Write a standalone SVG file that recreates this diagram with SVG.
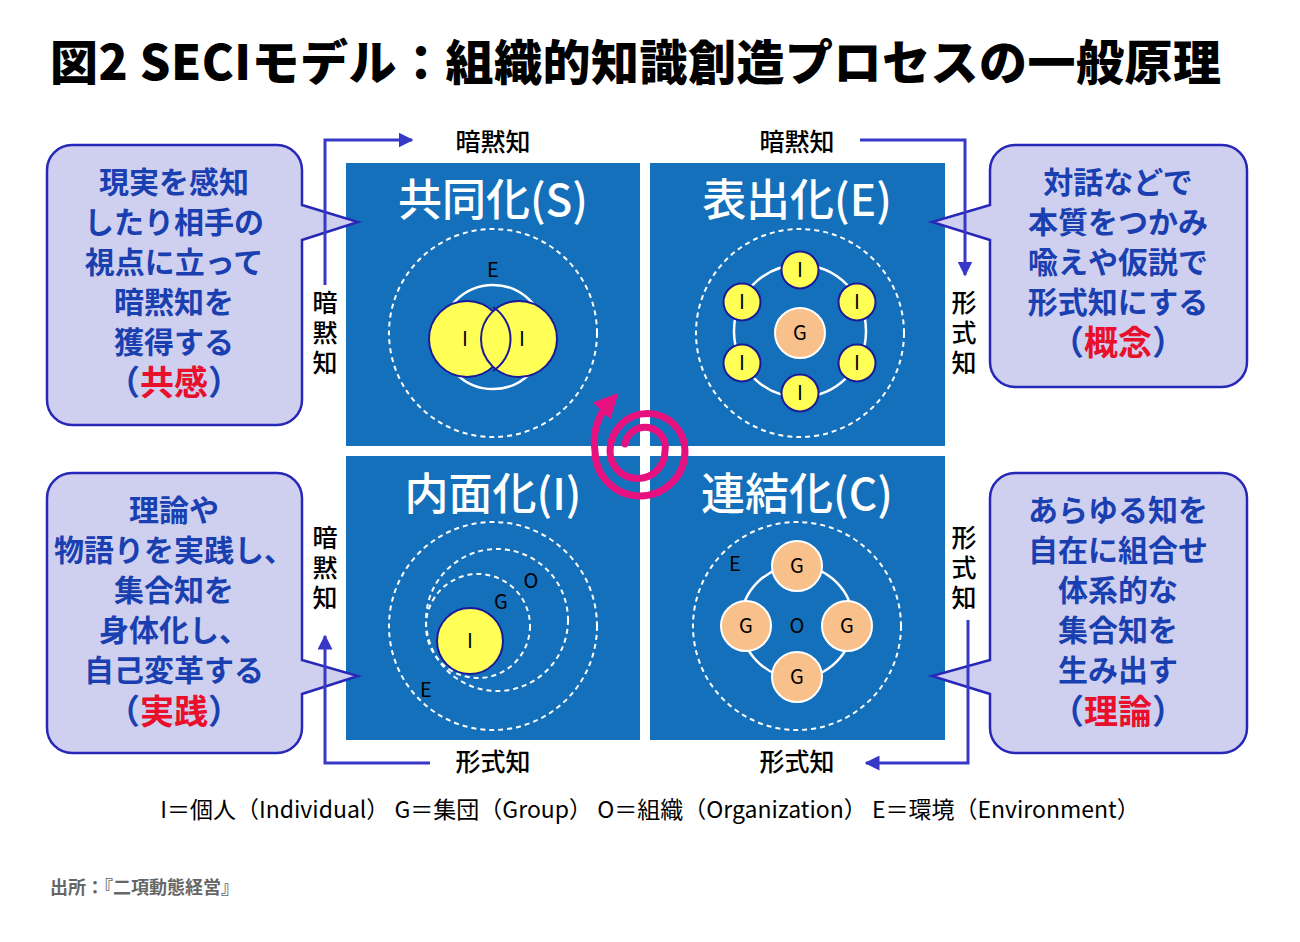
<svg xmlns="http://www.w3.org/2000/svg" width="1300" height="942" viewBox="0 0 1300 942">
<defs>
<style>
text{font-family:"Noto Sans CJK JP","Liberation Sans",sans-serif}
.ttl{font-size:48px;font-weight:900;fill:#000;letter-spacing:0.5px}
.q{fill:#1470bb}
.qt{font-size:44px;fill:#fff;text-anchor:middle;font-weight:500}
.dash{fill:none;stroke:#fff;stroke-width:2;stroke-dasharray:5 4}
.ring{fill:none;stroke:#fff;stroke-width:2.5}
.yi{fill:#ffff55;stroke:#1a1a9a;stroke-width:2}
.gi{fill:#f8c08a;stroke:#fff;stroke-width:2}
.lb{font-size:20px;fill:#000;text-anchor:middle}
.co{fill:#cfcff0;stroke:#2828b8;stroke-width:2.5}
.ct{font-size:30px;font-weight:700;fill:#1a3fb0;text-anchor:middle}
.red{fill:#e8102a}
.ax{font-size:25px;fill:#000;text-anchor:middle;font-weight:500}
.cn{fill:none;stroke:#3838c8;stroke-width:3}
</style>
<marker id="ah" viewBox="0 0 10 10" refX="9" refY="5" markerWidth="5" markerHeight="5" orient="auto"><path d="M0,0L10,5L0,10z" fill="#3838c8"/></marker>
<marker id="ph" viewBox="0 0 10 10" refX="5" refY="5" markerWidth="3.5" markerHeight="3.5" orient="auto"><path d="M0,0L10,5L0,10z" fill="#e6117e"/></marker>
</defs>
<rect width="1300" height="942" fill="#fff"/>
<text x="50" y="80" class="ttl">図2 SECIモデル：組織的知識創造プロセスの一般原理</text>

<g id="q-s">
<rect class="q" x="346" y="163" width="294" height="283"/>
<text class="qt" x="493" y="216">共同化(S)</text>
<circle class="dash" cx="493" cy="333" r="104"/>
<circle class="ring" cx="493" cy="337" r="52"/>
<text class="lb" x="493" y="277">E</text>
<circle class="yi" cx="467" cy="339" r="38"/>
<circle class="yi" cx="519" cy="339" r="38"/>
<path d="M493,307 A38,38 0 0 1 493,371" fill="none" stroke="#1a1a9a" stroke-width="2"/>
<text class="lb" x="465" y="346">I</text><text class="lb" x="522" y="346">I</text>
</g>

<g id="q-e">
<rect class="q" x="650" y="163" width="295" height="283"/>
<text class="qt" x="797" y="216">表出化(E)</text>
<circle class="dash" cx="800" cy="333" r="104"/>
<circle class="ring" cx="800" cy="331" r="66"/>
<circle class="gi" cx="800" cy="333" r="25"/><text class="lb" x="800" y="340">G</text>
<circle class="yi" cx="800" cy="270" r="18.5"/><text class="lb" x="800" y="277">I</text>
<circle class="yi" cx="742" cy="302" r="18.5"/><text class="lb" x="742" y="309">I</text>
<circle class="yi" cx="857" cy="302" r="18.5"/><text class="lb" x="857" y="309">I</text>
<circle class="yi" cx="742" cy="363" r="18.5"/><text class="lb" x="742" y="370">I</text>
<circle class="yi" cx="857" cy="363" r="18.5"/><text class="lb" x="857" y="370">I</text>
<circle class="yi" cx="800" cy="393" r="18.5"/><text class="lb" x="800" y="400">I</text>
</g>

<g id="q-i">
<rect class="q" x="346" y="456" width="294" height="284"/>
<text class="qt" x="493" y="510">内面化(I)</text>
<circle class="dash" cx="493" cy="626" r="104"/>
<circle class="dash" cx="497" cy="620" r="71"/>
<circle class="dash" cx="478" cy="626" r="52"/>
<circle class="yi" cx="470" cy="641" r="33"/><text class="lb" x="470" y="648">I</text>
<text class="lb" x="531" y="588">O</text><text class="lb" x="501" y="609">G</text><text class="lb" x="426" y="697">E</text>
</g>

<g id="q-c">
<rect class="q" x="650" y="456" width="295" height="284"/>
<text class="qt" x="797" y="510">連結化(C)</text>
<circle class="dash" cx="797" cy="626" r="104"/>
<circle class="ring" cx="797" cy="622" r="56"/>
<circle class="gi" cx="797" cy="566" r="25"/><text class="lb" x="797" y="573">G</text>
<circle class="gi" cx="746" cy="626" r="25"/><text class="lb" x="746" y="633">G</text>
<circle class="gi" cx="847" cy="626" r="25"/><text class="lb" x="847" y="633">G</text>
<circle class="gi" cx="797" cy="677" r="25"/><text class="lb" x="797" y="684">G</text>
<text class="lb" x="797" y="633">O</text><text class="lb" x="735" y="571">E</text>
</g>

<g id="spiral">
<path d="M625,444 A20,20 0 0 1 665,451 A27.5,27.5 0 0 1 610,451 A37.5,37.5 0 0 1 685,451 A45,45 0 0 1 595,451 A58,58 0 0 1 610,402" fill="none" stroke="#e6117e" stroke-width="7" stroke-linecap="round" marker-end="url(#ph)"/>
</g>

<g id="c-s">
<path class="co" d="M72,145 H277 A25,25 0 0 1 302,170 V205 L358,222 L302,240 V400 A25,25 0 0 1 277,425 H72 A25,25 0 0 1 47,400 V170 A25,25 0 0 1 72,145z"/>
<text class="ct" x="174" y="193">現実を感知</text>
<text class="ct" x="174" y="233">したり相手の</text>
<text class="ct" x="174" y="273">視点に立って</text>
<text class="ct" x="174" y="313">暗黙知を</text>
<text class="ct" x="174" y="353">獲得する</text>
<text class="ct" x="174" y="395" style="font-size:34px">（<tspan class="red">共感</tspan>）</text>
</g>
<g id="c-e">
<path class="co" d="M1015,145 H1222 A25,25 0 0 1 1247,170 V362 A25,25 0 0 1 1222,387 H1015 A25,25 0 0 1 990,362 V240 L932,222 L990,205 V170 A25,25 0 0 1 1015,145z"/>
<text class="ct" x="1118" y="193">対話などで</text>
<text class="ct" x="1118" y="233">本質をつかみ</text>
<text class="ct" x="1118" y="273">喩えや仮説で</text>
<text class="ct" x="1118" y="313">形式知にする</text>
<text class="ct" x="1118" y="355" style="font-size:34px">（<tspan class="red">概念</tspan>）</text>
</g>
<g id="c-i">
<path class="co" d="M72,473 H277 A25,25 0 0 1 302,498 V660 L358,676 L302,694 V728 A25,25 0 0 1 277,753 H72 A25,25 0 0 1 47,728 V498 A25,25 0 0 1 72,473z"/>
<text class="ct" x="174" y="521">理論や</text>
<text class="ct" x="174" y="561">物語りを実践し、</text>
<text class="ct" x="174" y="601">集合知を</text>
<text class="ct" x="174" y="641">身体化し、</text>
<text class="ct" x="174" y="681">自己変革する</text>
<text class="ct" x="174" y="724" style="font-size:34px">（<tspan class="red">実践</tspan>）</text>
</g>
<g id="c-c">
<path class="co" d="M1015,473 H1222 A25,25 0 0 1 1247,498 V728 A25,25 0 0 1 1222,753 H1015 A25,25 0 0 1 990,728 V694 L932,676 L990,660 V498 A25,25 0 0 1 1015,473z"/>
<text class="ct" x="1118" y="521">あらゆる知を</text>
<text class="ct" x="1118" y="561">自在に組合せ</text>
<text class="ct" x="1118" y="601">体系的な</text>
<text class="ct" x="1118" y="641">集合知を</text>
<text class="ct" x="1118" y="681">生み出す</text>
<text class="ct" x="1118" y="724" style="font-size:34px">（<tspan class="red">理論</tspan>）</text>
</g>

<g id="connectors">
<path class="cn" d="M325,285 V140 H412" marker-end="url(#ah)"/>
<path class="cn" d="M860,140 H965 V275" marker-end="url(#ah)"/>
<path class="cn" d="M968,620 V763 H866" marker-end="url(#ah)"/>
<path class="cn" d="M430,763 H325 V636" marker-end="url(#ah)"/>
</g>
<g id="axis-labels">
<text class="ax" x="493" y="151">暗黙知</text>
<text class="ax" x="797" y="151">暗黙知</text>
<text class="ax" x="493" y="771">形式知</text>
<text class="ax" x="797" y="771">形式知</text>
<text class="ax" x="325" y="312">暗</text><text class="ax" x="325" y="342">黙</text><text class="ax" x="325" y="372">知</text>
<text class="ax" x="964" y="312">形</text><text class="ax" x="964" y="342">式</text><text class="ax" x="964" y="372">知</text>
<text class="ax" x="325" y="547">暗</text><text class="ax" x="325" y="577">黙</text><text class="ax" x="325" y="607">知</text>
<text class="ax" x="964" y="547">形</text><text class="ax" x="964" y="577">式</text><text class="ax" x="964" y="607">知</text>
</g>
<text x="650" y="818" text-anchor="middle" style="font-size:23px;fill:#000">I＝個人（Individual） G＝集団（Group） O＝組織（Organization） E＝環境（Environment）</text>
<text x="50" y="894" style="font-size:18px;fill:#666;font-weight:700">出所：『二項動態経営』</text>
</svg>
